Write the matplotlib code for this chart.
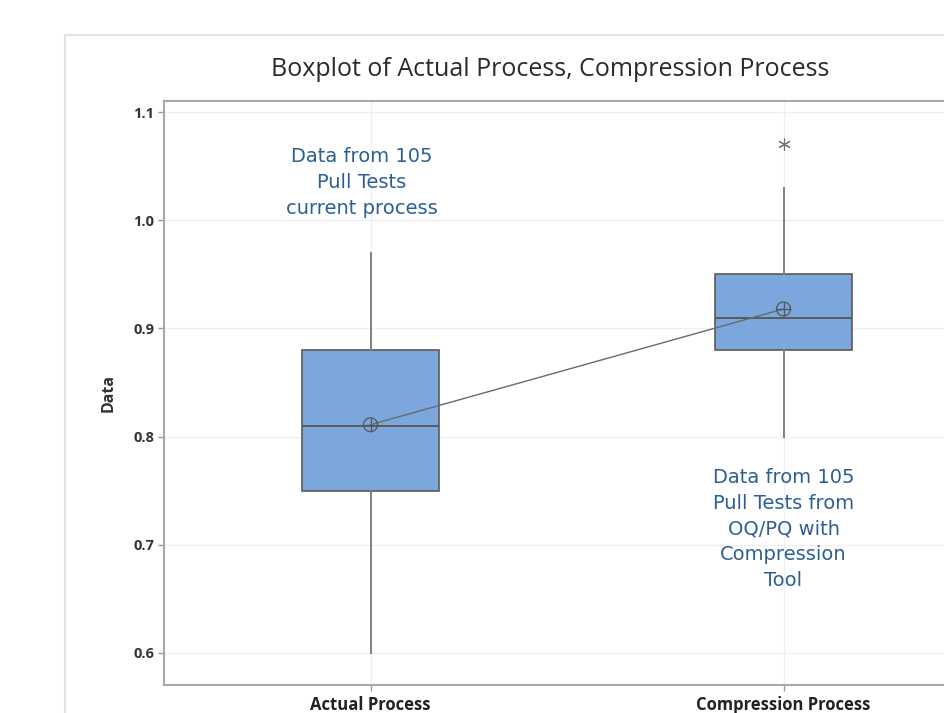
import matplotlib.pyplot as plt
from matplotlib.patches import Rectangle

categories = ["Actual Process", "Compression Process"]
whislo = [0.60, 0.80]
q1 = [0.75, 0.88]
med = [0.81, 0.91]
q3 = [0.88, 0.95]
whishi = [0.97, 1.03]
means = [0.811, 0.918]
outliers = [[], [1.07]]
yticks = [0.6, 0.7, 0.8, 0.9, 1.0, 1.1]

box_color = "#7ba7dc"
edge = "#5a5a5a"
note_color = "#2e5f93"


def make_boxplot(output_path="out.png"):
    fig = plt.figure(figsize=(9.44, 7.13), dpi=100)

    # light frame of the Minitab graph window
    fig.patches.append(Rectangle((65 / 944, -0.1), 1.0, 1 - 35 / 713 + 0.1,
                                 transform=fig.transFigure, fill=False,
                                 edgecolor="#e2e2e2", linewidth=1.5))

    ax = fig.add_axes([164 / 944, 1 - 685 / 713, 826 / 944, 584 / 713])

    stats = []
    for i, name in enumerate(categories):
        stats.append(dict(label=name, whislo=whislo[i], q1=q1[i], med=med[i],
                          q3=q3[i], whishi=whishi[i], mean=means[i], fliers=outliers[i]))

    pos = [1, 2]
    ax.bxp(stats, positions=pos, widths=0.33, patch_artist=True, showcaps=False,
           boxprops=dict(facecolor=box_color, edgecolor=edge, linewidth=1.2),
           medianprops=dict(color=edge, linewidth=1.4),
           whiskerprops=dict(color="#808080", linewidth=1.4),
           flierprops=dict(marker=(6, 2, 0), markersize=9, markeredgecolor="#707070",
                           markeredgewidth=0.8),
           zorder=3)

    # mean connect line with circled-plus symbols
    ax.plot(pos, means, color="#6a6a6a", linewidth=1.0, zorder=4)
    ax.scatter(pos, means, s=100, facecolor="none", edgecolor="#555555", linewidth=0.9, zorder=5)
    ax.scatter(pos, means, s=100, marker="+", color="#555555", linewidth=0.9, zorder=5)

    ax.set_xlim(0.5, 2.5)
    ax.set_ylim(0.5704, 1.1102)
    ax.set_yticks(yticks)
    ax.set_yticklabels([f"{v:.1f}" for v in yticks], fontsize=10.5, fontweight="bold",
                       color="#333333", family="Open Sans")
    ax.set_xticks(pos)
    ax.set_xticklabels(categories, fontsize=12, fontweight="bold", color="#222222",
                       family="Open Sans")
    ax.tick_params(axis="y", length=4, width=1, color="#999999", pad=3)
    ax.tick_params(axis="x", length=4, width=1, color="#999999", pad=4)

    ax.grid(True, color="#f0f0f0", linewidth=1.0, zorder=0)
    ax.set_axisbelow(True)
    for spine in ax.spines.values():
        spine.set_color("#a8a8a8")
        spine.set_linewidth(1.5)

    ax.set_ylabel("Data", fontsize=11.5, fontweight="bold", color="#333333",
                  family="Open Sans", labelpad=12)

    fig.text(550 / 944, 1 - 70 / 713, "Boxplot of Actual Process, Compression Process",
             ha="center", va="center", fontsize=18, color="#2a2a2a", family="Open Sans")

    ax.text(0.978, 1.035, "Data from 105\nPull Tests\ncurrent process", ha="center",
            va="center", fontsize=14, color=note_color, family="DejaVu Sans", linespacing=1.45)
    ax.text(2.0, 0.7146, "Data from 105\nPull Tests from\nOQ/PQ with\nCompression\nTool",
            ha="center", va="center", fontsize=14, color=note_color, family="DejaVu Sans",
            linespacing=1.45)

    plt.savefig(output_path, dpi=100)


if __name__ == "__main__":
    make_boxplot()
